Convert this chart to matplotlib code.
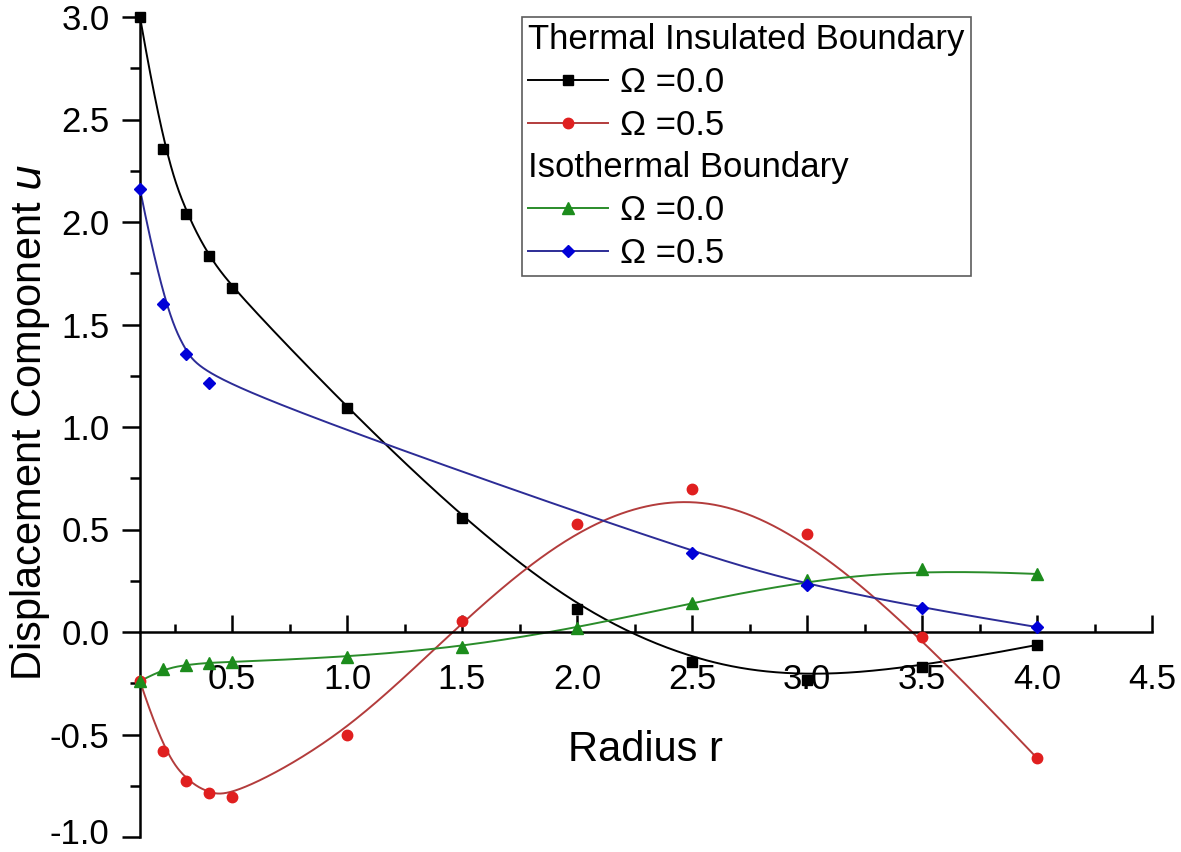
import numpy as np
import matplotlib
matplotlib.use("Agg")
import matplotlib.pyplot as plt
from matplotlib.lines import Line2D
from matplotlib.ticker import MultipleLocator, FormatStrFormatter
from matplotlib.transforms import ScaledTranslation

plt.rcParams['font.family'] = ['Liberation Sans', 'DejaVu Sans']
plt.rcParams['axes.unicode_minus'] = False

# data
r_black = [0.1, 0.2, 0.3, 0.4, 0.5, 1.0, 1.5, 2.0, 2.5, 3.0, 3.5, 4.0]
u_black = [3.0, 2.356, 2.04, 1.834, 1.678, 1.093, 0.556, 0.112, -0.146, -0.234, -0.17, -0.063]

r_red = [0.1, 0.2, 0.3, 0.4, 0.5, 1.0, 1.5, 2.0, 2.5, 3.0, 3.5, 4.0]
u_red = [-0.24, -0.58, -0.727, -0.785, -0.805, -0.5, 0.054, 0.527, 0.698, 0.478, -0.024, -0.615]

r_green = [0.1, 0.2, 0.3, 0.4, 0.5, 1.0, 1.5, 2.0, 2.5, 3.0, 3.5, 4.0]
u_green = [-0.24, -0.18, -0.16, -0.15, -0.146, -0.122, -0.073, 0.02, 0.141, 0.254, 0.307, 0.283]

r_blue = [0.1, 0.2, 0.3, 0.4, 2.5, 3.0, 3.5, 4.0]
u_blue = [2.16, 1.6, 1.356, 1.215, 0.385, 0.229, 0.117, 0.024]

legend_labels = ['Thermal Insulated Boundary', 'Ω =0.0', 'Ω =0.5',
                 'Isothermal Boundary', 'Ω =0.0', 'Ω =0.5']


def bspline(px, py, num=500):
    # clamped cubic B-spline with the data points as control points
    # (same as the "B-Spline" line connection in Origin)
    P = np.column_stack([px, py]).astype(float)
    n = len(P)
    k = 3
    knots = np.concatenate([np.zeros(k), np.arange(n - k + 1), np.full(k, n - k)]).astype(float)
    t = np.linspace(0, n - k, num)
    t[-1] -= 1e-9
    N = np.zeros((num, len(knots) - 1))
    for i in range(len(knots) - 1):
        N[:, i] = (knots[i] <= t) & (t < knots[i + 1])
    for p in range(1, k + 1):
        Nn = np.zeros((num, len(knots) - 1 - p))
        for i in range(len(knots) - 1 - p):
            a = knots[i + p] - knots[i]
            b = knots[i + p + 1] - knots[i + 1]
            term = np.zeros(num)
            if a > 0:
                term += (t - knots[i]) / a * N[:, i]
            if b > 0:
                term += (knots[i + p + 1] - t) / b * N[:, i + 1]
            Nn[:, i] = term
        N = Nn
    C = N @ P
    return C[:, 0], C[:, 1]


fig = plt.figure(figsize=(11.81, 8.52), dpi=100)
ax = fig.add_axes([140 / 1181, 15 / 852, 1012 / 1181, 820 / 852])

series = [
    (r_black, u_black, 'black', 'black', 's', 6.5),
    (r_red, u_red, '#b33c3c', '#e01f1f', 'o', 7.5),
    (r_green, u_green, '#2a8c2a', '#1c8c1c', '^', 8),
    (r_blue, u_blue, '#2c2c96', '#0000d8', 'D', 6.5),
]
handles = []
for rr, uu, lc, mc, mk, ms in series:
    cx, cy = bspline(rr, uu)
    ax.plot(cx, cy, color=lc, lw=1.4, clip_on=False, zorder=2)
    ax.plot(rr, uu, ls='none', marker=mk, ms=ms, color=mc, clip_on=False, zorder=3)
    handles.append(Line2D([], [], color=lc, lw=1.4, marker=mk, ms=ms,
                          markerfacecolor=mc, markeredgecolor=mc))

ax.set_xlim(0.1, 4.5)
ax.set_ylim(-1.0, 3.0)

ax.spines['top'].set_visible(False)
ax.spines['right'].set_visible(False)
ax.spines['bottom'].set_position(('data', 0))
ax.spines['left'].set_linewidth(1.8)
ax.spines['bottom'].set_linewidth(1.8)

ax.xaxis.set_major_locator(MultipleLocator(0.5))
ax.xaxis.set_minor_locator(MultipleLocator(0.25))
ax.yaxis.set_major_locator(MultipleLocator(0.5))
ax.yaxis.set_minor_locator(MultipleLocator(0.25))
ax.xaxis.set_major_formatter(FormatStrFormatter('%.1f'))
ax.yaxis.set_major_formatter(FormatStrFormatter('%.1f'))

ax.tick_params(axis='x', which='major', direction='in', length=12, width=1.8,
               pad=22, labelsize=25)
ax.tick_params(axis='x', which='minor', direction='in', length=6, width=1.8)
ax.tick_params(axis='y', which='major', direction='out', length=13, width=1.8,
               pad=9, labelsize=25)
ax.tick_params(axis='y', which='minor', direction='out', length=7, width=1.8)

# lift the bottom "-1.0" label a little so it stays inside the picture
fig.canvas.draw()
for tk in ax.yaxis.get_major_ticks():
    if tk.label1.get_text() == '-1.0':
        tk.label1.set_transform(tk.label1.get_transform()
                                + ScaledTranslation(0, 4 / 72, fig.dpi_scale_trans))

ax.set_xlabel('Radius r', fontsize=30)
ax.xaxis.set_label_coords(0.5, 0.131)
ax.set_ylabel('Displacement Component $\\mathit{u}$', fontsize=30)
ax.yaxis.set_label_coords(-0.087, 0.505)

blank = Line2D([], [], color='none')
leg = ax.legend([blank, handles[0], handles[1], blank, handles[2], handles[3]],
                legend_labels, loc='upper left', bbox_to_anchor=(0.3775, 1.0),
                borderaxespad=0, fontsize=25, frameon=True, fancybox=False,
                handlelength=2.3, handletextpad=0.35, labelspacing=0.28,
                borderpad=0.18)
leg.get_frame().set_edgecolor('#333333')
leg.get_frame().set_linewidth(1.2)

# header rows have no handle: shrink their handle area to nothing
for col in leg._legend_handle_box.get_children():
    for row in col.get_children():
        da, ta = row.get_children()
        if ta.get_text() in ('Thermal Insulated Boundary', 'Isothermal Boundary'):
            da.width = 0
            row.sep = 0

fig.savefig('out.png', dpi=100)
